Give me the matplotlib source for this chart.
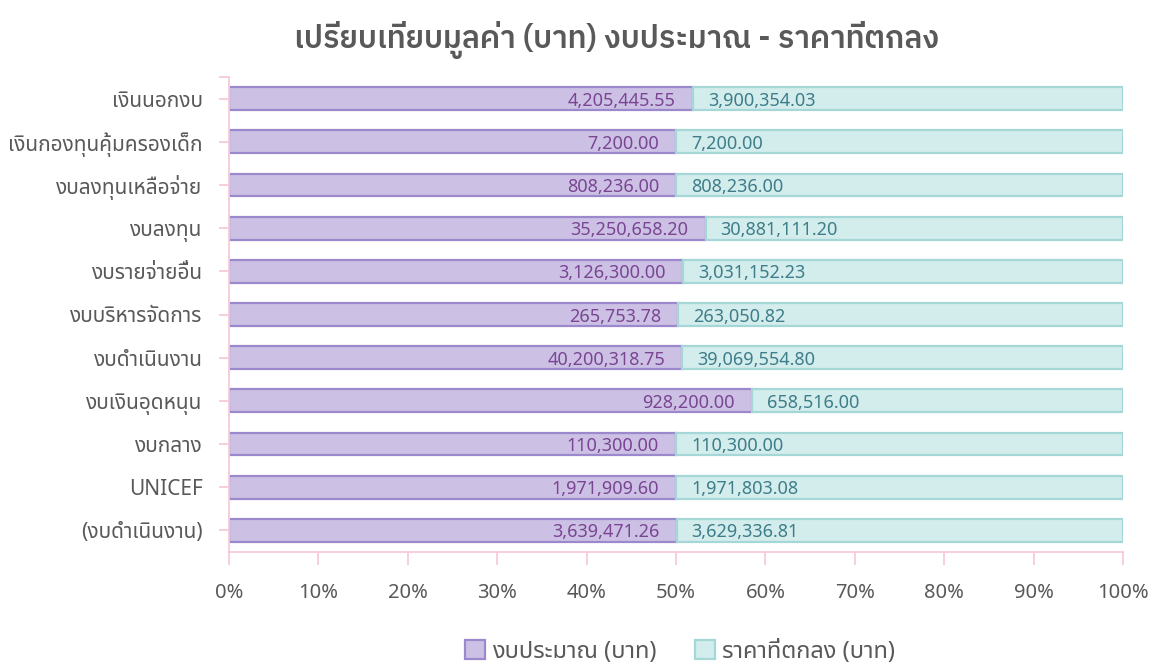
import matplotlib
matplotlib.use("Agg")
import matplotlib.pyplot as plt
import numpy as np

plt.rcParams['font.family'] = ['Noto Sans Thai', 'Noto Sans', 'DejaVu Sans']

categories = ['เงินนอกงบ', 'เงินกองทุนคุ้มครองเด็ก', 'งบลงทุนเหลือจ่าย', 'งบลงทุน',
              'งบรายจ่ายอื่น', 'งบบริหารจัดการ', 'งบดำเนินงาน', 'งบเงินอุดหนุน',
              'งบกลาง', 'UNICEF', '(งบดำเนินงาน)']
budget = [4205445.55, 7200.00, 808236.00, 35250658.20, 3126300.00, 265753.78,
          40200318.75, 928200.00, 110300.00, 1971909.60, 3639471.26]
price = [3900354.03, 7200.00, 808236.00, 30881111.20, 3031152.23, 263050.82,
         39069554.80, 658516.00, 110300.00, 1971803.08, 3629336.81]
series_names = ['งบประมาณ (บาท)', 'ราคาที่ตกลง (บาท)']
title = 'เปรียบเทียบมูลค่า (บาท) งบประมาณ - ราคาที่ตกลง'

b = np.array(budget)
p = np.array(price)
total = b + p
b_pct = b / total * 100
p_pct = p / total * 100
y = np.arange(len(categories))[::-1]

gray = '#595959'
pink = '#F8CBD6'

fig = plt.figure(figsize=(11.59, 6.68), dpi=100)
ax = fig.add_axes([229 / 1159, 1 - 552 / 668, 894 / 1159, 475 / 668])

bars1 = ax.barh(y, b_pct, height=0.53, color='#CCC1E4', edgecolor='#9C88CD',
                linewidth=1.6, label=series_names[0])
bars2 = ax.barh(y, p_pct, left=b_pct, height=0.53, color='#D3ECEC',
                edgecolor='#A5D7D7', linewidth=1.6, label=series_names[1])

for i in range(len(categories)):
    ax.annotate(f'{budget[i]:,.2f}', (b_pct[i], y[i]), xytext=(-17, -2),
                textcoords='offset pixels', ha='right', va='center',
                fontsize=13, color='#7A4592', fontweight='light')
    ax.annotate(f'{price[i]:,.2f}', (b_pct[i], y[i]), xytext=(15, -2),
                textcoords='offset pixels', ha='left', va='center',
                fontsize=13, color='#3E7D8A', fontweight='light')

ax.set_xlim(0, 100)
ax.set_ylim(-0.5, len(categories) - 0.5)
ax.set_xticks(np.arange(0, 101, 10))
ax.set_xticklabels([f'{v}%' for v in range(0, 101, 10)])
ax.set_yticks(y)
ax.set_yticklabels(categories)
ax.set_yticks([len(categories) - 0.5], minor=True)

for s in ['top', 'right']:
    ax.spines[s].set_visible(False)
for s in ['left', 'bottom']:
    ax.spines[s].set_color(pink)
    ax.spines[s].set_linewidth(1.3)
ax.tick_params(axis='x', colors=pink, length=9, width=1.3, labelcolor=gray,
               labelsize=14.5, pad=13)
ax.tick_params(axis='y', which='both', colors=pink, length=7, width=1.3,
               labelcolor=gray, labelsize=15, pad=12)
for lab in ax.get_xticklabels() + ax.get_yticklabels():
    lab.set_fontweight('light')

# title in a font that has a bold Thai face
fig.text(617 / 1159, 1 - 40 / 668, title, ha='center', va='center', fontsize=22,
         color=gray, fontweight='semibold',
         family=['IBM Plex Sans Thai', 'Noto Sans Thai', 'DejaVu Sans'])

leg = fig.legend(handles=[bars1, bars2], loc='center', ncol=2,
                 bbox_to_anchor=(680 / 1159, 1 - 652 / 668), frameon=False,
                 fontsize=17, handlelength=0.85, handleheight=0.85,
                 handletextpad=0.3, columnspacing=1.6)
for t in leg.get_texts():
    t.set_color(gray)
    t.set_fontweight('light')

fig.savefig('out.png', dpi=100)
